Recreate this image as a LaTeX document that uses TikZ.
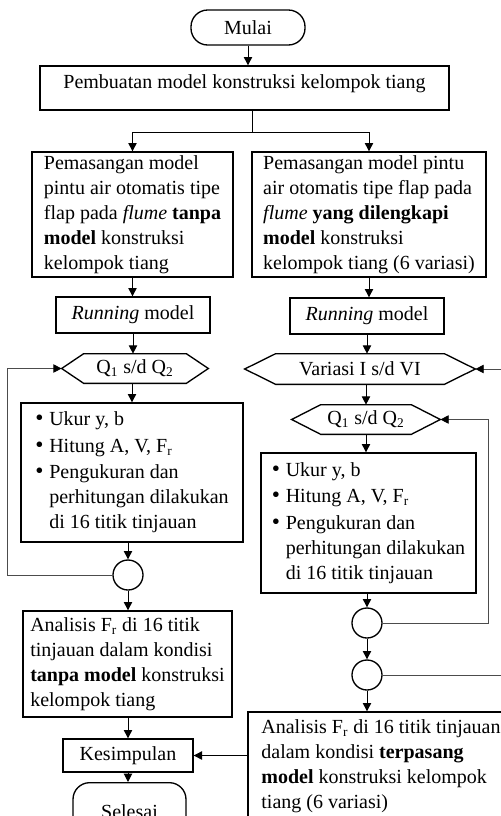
\documentclass[tikz,border=0pt]{standalone}
\usepackage{fontspec}
\setmainfont{Liberation Serif}
\usetikzlibrary{positioning,calc,arrows.meta}
\newcommand{\itm}[1]{\makebox[8.4pt][l]{\fontsize{14pt}{15pt}\selectfont\textbullet}#1}
\newcommand{\cont}[1]{\hspace*{8.4pt}#1}

\begin{document}
\begin{tikzpicture}[
    x=0.6pt, y=-0.6pt,
    every node/.style={font=\fontsize{12pt}{15pt}\selectfont, inner sep=0pt},
    box/.style={rectangle, draw, line width=0.8pt, align=left},
    term/.style={rectangle, draw, line width=0.8pt, rounded corners=10pt},
    hexnode/.style={rectangle, minimum height=17.4pt},
    joint/.style={circle, draw, line width=0.8pt, minimum size=18pt},
    arr/.style={draw, line width=0.6pt, -{Triangle[length=5pt,width=5pt]}},
    loopline/.style={draw=black!70, line width=0.5pt, -{Triangle[length=5pt,width=5pt,color=black]}}
]
\useasboundingbox (0,0) rectangle (501,816);
\clip (0,0) rectangle (501,816);

% start and model making
\node[term, minimum width=68.4pt, minimum height=21pt] (start) at (248,27.5) {Mulai};
\node[box, minimum width=245.4pt, text height=13.2pt, text depth=13.2pt] (buat) at (244.5,88) {Pembuatan model konstruksi kelompok tiang};

% two branches
\node[box, minimum width=120.6pt, minimum height=75pt] (a1) at (132.5,214.5)
    {Pemasangan model\\pintu air otomatis tipe\\flap pada \textit{flume} \textbf{tanpa}\\\textbf{model} konstruksi\\kelompok tiang};
\node[box, minimum width=140.4pt, minimum height=75pt] (a2) at (369,214.5)
    {Pemasangan model pintu\\air otomatis tipe flap pada\\\textit{flume} \textbf{yang dilengkapi}\\\textbf{model} konstruksi\\kelompok tiang (6 variasi)};
\node[box, minimum width=92.4pt, minimum height=21.6pt] (run1) at (133,315) {\textit{Running} model};
\node[box, minimum width=92.4pt, minimum height=21.6pt] (run2) at (367,316) {\textit{Running} model};

% loops
\node[hexnode, minimum width=87.6pt] (q1) at (135,368.5) {Q\textsubscript{1} s/d Q\textsubscript{2}};
\node[hexnode, minimum width=138pt, minimum height=18pt] (var) at (360,369) {Variasi I s/d VI};
\node[hexnode, minimum width=88.8pt] (q2) at (366,419.5) {Q\textsubscript{1} s/d Q\textsubscript{2}};
\foreach \n/\c in {q1/22, var/31, q2/29}
    \draw[line width=0.8pt] (\n.west) -- ($(\n.north west)+(\c,0)$) -- ($(\n.north east)+(-\c,0)$)
        -- (\n.east) -- ($(\n.south east)+(-\c,0)$) -- ($(\n.south west)+(\c,0)$) -- cycle;

\node[box, minimum width=133.2pt, minimum height=83.4pt] (ukur1) at (132,472.5)
    {\itm{Ukur y, b}\\[1pt]\itm{Hitung A, V, F\textsubscript{r}}\\[1pt]\itm{Pengukuran dan}\\\cont{perhitungan dilakukan}\\\cont{di 16 titik tinjauan}};
\node[box, minimum width=129pt, minimum height=84pt] (ukur2) at (368.5,523)
    {\itm{Ukur y, b}\\[1pt]\itm{Hitung A, V, F\textsubscript{r}}\\[1pt]\itm{Pengukuran dan}\\\cont{perhitungan dilakukan}\\\cont{di 16 titik tinjauan}};

\node[joint] (c1) at (128,575) {};
\node[joint] (c2) at (367,623) {};
\node[joint] (c3) at (367,675) {};

% analysis and end
\node[box, minimum width=125.4pt, minimum height=63.6pt] (ana1) at (127.5,664)
    {Analisis F\textsubscript{r} di 16 titik\\tinjauan dalam kondisi\\\textbf{tanpa model} konstruksi\\kelompok tiang};
\node[box, minimum width=159.6pt, minimum height=64.8pt] (ana2) at (381,766)
    {Analisis F\textsubscript{r} di 16 titik tinjauan\\dalam kondisi \textbf{terpasang}\\\textbf{model} konstruksi kelompok\\tiang (6 variasi)};
\node[box, minimum width=78pt, minimum height=19.8pt] (kes) at (128,755.5) {Kesimpulan};
\node[term, minimum width=67.8pt, text height=21.6pt, text depth=10pt, anchor=north] (fin) at (129.5,782) {Selesai};

\coordinate (br) at (252,132);
\coordinate (lx) at (7,0);
\coordinate (rx) at (488,0);
\coordinate (ox) at (512,0);

\draw[arr] (start.south) -- (start.south |- buat.north);
\draw[line width=0.6pt] (buat.south -| br) -- (br);
\draw[arr] (br) -| (a1.north);
\draw[arr] (br) -| (a2.north);
\draw[arr] (a1.south) -- (a1.south |- run1.north);
\draw[arr] (run1.south) -- (run1.south |- q1.north);
\draw[arr] (ukur1.north |- q1.south) -- (ukur1.north);
\draw[arr] (c1.north |- ukur1.south) -- (c1.north);
\draw[arr] (c1.south) -- (c1.south |- ana1.north);
\draw[arr] (kes.north |- ana1.south) -- (kes.north);
\draw[arr] (kes.south) -- (kes.south |- fin.north);
\draw[arr] (a2.south) -- (a2.south |- run2.north);
\draw[arr] (run2.south) -- (run2.south |- var.north);
\draw[arr] (q2.north |- var.south) -- (q2.north);
\draw[arr] (q2.south) -- (q2.south |- ukur2.north);
\draw[arr] (c2.north |- ukur2.south) -- (c2.north);
\draw[arr] (c2.south) -- (c3.north);
\draw[arr] (c3.south) -- (c3.south |- ana2.north);
\draw[arr] (kes.east -| ana2.west) -- (kes.east);
\draw[loopline] (c1.west) -- (c1.west -| lx) |- (q1.west);
\draw[loopline] (c2.east) -- (c2.east -| rx) |- (q2.east);
\draw[loopline] (c3.east) -- (c3.east -| ox) |- (var.east);
\end{tikzpicture}
\end{document}
